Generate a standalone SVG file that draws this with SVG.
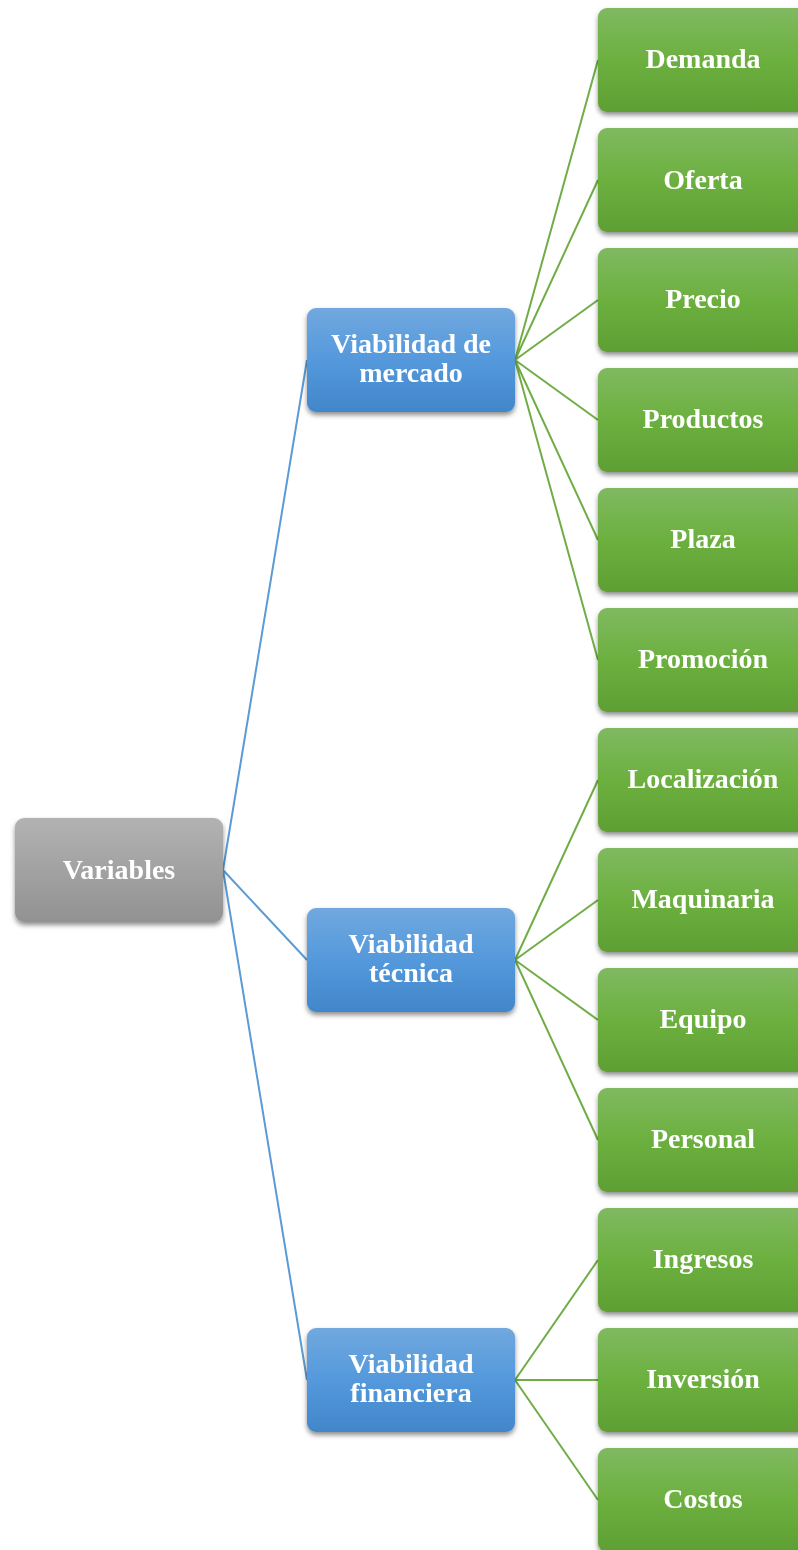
<svg xmlns="http://www.w3.org/2000/svg" width="798" height="1550" viewBox="0 0 798 1550">
<defs>
<linearGradient id="gGrey" x1="0" y1="0" x2="0" y2="1"><stop offset="0" stop-color="#b2b2b2"/><stop offset="1" stop-color="#929292"/></linearGradient>
<linearGradient id="gBlue" x1="0" y1="0" x2="0" y2="1"><stop offset="0" stop-color="#71a8df"/><stop offset="0.5" stop-color="#5499dc"/><stop offset="1" stop-color="#4286ca"/></linearGradient>
<linearGradient id="gGreen" x1="0" y1="0" x2="0" y2="1"><stop offset="0" stop-color="#80b960"/><stop offset="0.5" stop-color="#6cb03f"/><stop offset="1" stop-color="#5e9f33"/></linearGradient>
<filter id="sh" x="-10%" y="-10%" width="130%" height="140%"><feDropShadow dx="0" dy="3" stdDeviation="2.5" flood-color="#000" flood-opacity="0.45"/></filter>
</defs>
<style>
.n{filter:url(#sh)}
.grey{fill:url(#gGrey)}
.blue{fill:url(#gBlue)}
.green{fill:url(#gGreen)}
text{font-family:"Liberation Serif","Times New Roman",serif;font-weight:bold;font-size:28px;fill:#fff;text-anchor:middle}
.cb{stroke:#5b9bd5;stroke-width:2;fill:none}
.cg{stroke:#70ad47;stroke-width:2;fill:none}
</style>
<g id="connectors">
<path class="cb" d="M223,870 L307,360 M223,870 L307,960 M223,870 L307,1380"/>
<path class="cg" d="M515,360 L598,60 M515,360 L598,180 M515,360 L598,300 M515,360 L598,420 M515,360 L598,540 M515,360 L598,660"/>
<path class="cg" d="M515,960 L598,780 M515,960 L598,900 M515,960 L598,1020 M515,960 L598,1140"/>
<path class="cg" d="M515,1380 L598,1260 M515,1380 L598,1380 M515,1380 L598,1500"/>
</g>
<g id="variables" class="n"><rect class="grey" x="15" y="818" width="208" height="104" rx="9"/><text x="119" y="879">Variables</text></g>
<g id="mercado" class="n"><rect class="blue" x="307" y="308" width="208" height="104" rx="9"/><text x="411" y="353">Viabilidad de</text><text x="411" y="382">mercado</text></g>
<g id="tecnica" class="n"><rect class="blue" x="307" y="908" width="208" height="104" rx="9"/><text x="411" y="953">Viabilidad</text><text x="411" y="982">técnica</text></g>
<g id="financiera" class="n"><rect class="blue" x="307" y="1328" width="208" height="104" rx="9"/><text x="411" y="1373">Viabilidad</text><text x="411" y="1402">financiera</text></g>
<g id="demanda" class="n"><rect class="green" x="598" y="8" width="210" height="104" rx="9"/><text x="703" y="68">Demanda</text></g>
<g id="oferta" class="n"><rect class="green" x="598" y="128" width="210" height="104" rx="9"/><text x="703" y="189">Oferta</text></g>
<g id="precio" class="n"><rect class="green" x="598" y="248" width="210" height="104" rx="9"/><text x="703" y="308">Precio</text></g>
<g id="productos" class="n"><rect class="green" x="598" y="368" width="210" height="104" rx="9"/><text x="703" y="428">Productos</text></g>
<g id="plaza" class="n"><rect class="green" x="598" y="488" width="210" height="104" rx="9"/><text x="703" y="548">Plaza</text></g>
<g id="promocion" class="n"><rect class="green" x="598" y="608" width="210" height="104" rx="9"/><text x="703" y="668">Promoción</text></g>
<g id="localizacion" class="n"><rect class="green" x="598" y="728" width="210" height="104" rx="9"/><text x="703" y="788">Localización</text></g>
<g id="maquinaria" class="n"><rect class="green" x="598" y="848" width="210" height="104" rx="9"/><text x="703" y="908">Maquinaria</text></g>
<g id="equipo" class="n"><rect class="green" x="598" y="968" width="210" height="104" rx="9"/><text x="703" y="1028">Equipo</text></g>
<g id="personal" class="n"><rect class="green" x="598" y="1088" width="210" height="104" rx="9"/><text x="703" y="1148">Personal</text></g>
<g id="ingresos" class="n"><rect class="green" x="598" y="1208" width="210" height="104" rx="9"/><text x="703" y="1268">Ingresos</text></g>
<g id="inversion" class="n"><rect class="green" x="598" y="1328" width="210" height="104" rx="9"/><text x="703" y="1388">Inversión</text></g>
<g id="costos" class="n"><rect class="green" x="598" y="1448" width="210" height="104" rx="9"/><text x="703" y="1508">Costos</text></g>
</svg>
